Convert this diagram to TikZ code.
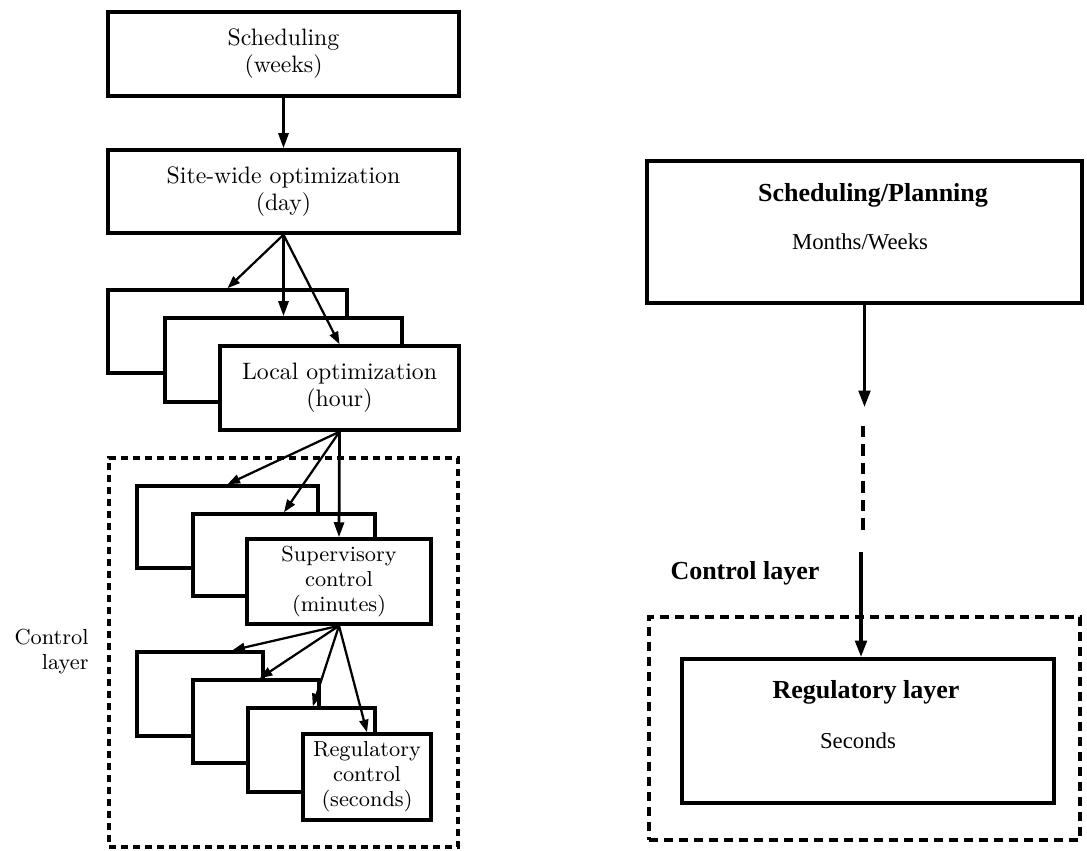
\documentclass[tikz,border=0pt]{standalone}
\usepackage{fontspec}
\newfontfamily\rfont{Liberation Serif}
\usetikzlibrary{arrows.meta,fit,calc}
\newcommand\lfa{\fontsize{9.5}{10.8}\selectfont}
\newcommand\lfb{\fontsize{8.7}{10}\selectfont}
\newcommand\rfb{\rfont\bfseries\fontsize{10.4}{12}\selectfont}
\newcommand\rfr{\rfont\fontsize{9.1}{11}\selectfont}
\begin{document}
\begin{tikzpicture}[x=0.4pt,y=-0.4pt,
  box/.style={draw, line width=1.4pt, fill=white, inner sep=0pt},
  txt/.style={align=center, inner sep=0pt},
  rbox/.style={draw, line width=1.6pt, inner sep=0pt},
  ldash/.style={draw, line width=1.4pt, dash pattern=on 2.8pt off 2pt, inner sep=0pt},
  rdashbox/.style={draw, line width=1.3pt, dash pattern=on 3.6pt off 2.4pt, inner sep=0pt},
  rdashline/.style={line width=1.3pt, dash pattern=on 4.6pt off 2.8pt},
  arr/.style={-{Triangle[length=6pt,width=4pt]}, line width=1.1pt},
  darr/.style={-{Triangle[length=5pt,width=3.6pt]}, line width=0.9pt},
  rarr/.style={-{Triangle[length=6.5pt,width=4.6pt]}, line width=1.3pt}]
\useasboundingbox (0,0) rectangle (1087,851);

% ---------------- left diagram ----------------
\node[ldash, fit={(109,458)(458,847)}] (lcl) {};
\node[anchor=east, align=right, font=\lfb, inner sep=0pt] (lctl) at (89,652) {Control\\layer};

\node[box, fit={(108,12)(459,96)}] (s1) {};
\node[txt, font=\lfa] (s1t) at (s1.center) {Scheduling\\(weeks)};
\node[box, fit={(108,150)(459,233)}] (s2) {};
\node[txt, font=\lfa] (s2t) at (s2.center) {Site-wide optimization\\(day)};

\node[box, fit={(108,290)(347,373)}] (l1a) {};
\node[box, fit={(165,318)(402,402)}] (l1b) {};
\node[box, fit={(220,346)(459,430)}] (l1c) {};
\node[txt, font=\lfa] (l1ct) at (l1c.center) {Local optimization\\(hour)};

\node[box, fit={(137,486)(318,568)}] (l2a) {};
\node[box, fit={(193,514)(375,596)}] (l2b) {};
\node[box, fit={(247,539)(431,624)}] (l2c) {};
\node[txt, font=\lfb] (l2ct) at (l2c.center) {Supervisory\\control\\(minutes)};

\node[box, fit={(137,652)(263,736)}] (l3a) {};
\node[box, fit={(193,680)(319,763)}] (l3b) {};
\node[box, fit={(248,708)(375,792)}] (l3c) {};
\node[box, fit={(303,734)(431,820)}] (l3d) {};
\node[txt, font=\lfb] (l3dt) at (l3d.center) {Regulatory\\control\\(seconds)};

\draw[arr] (s1.south) -- (s2.north);
\draw[darr] (s2.south) -- (l1a.north);
\draw[arr] (s2.south) -- (l1b.north);
\draw[darr] (s2.south) -- (l1c.north);

\draw[darr] (l1c.south) -- (l2a.north);
\draw[darr] (l1c.south) -- (l2b.north);
\draw[arr] (l1c.south) -- (l2c.north);

\draw[darr] (l2c.south) -- ($(l3a.north west)!0.75!(l3a.north east)$);
\draw[darr] (l2c.south) -- ($(l3b.north west)!0.53!(l3b.north east)$);
\draw[darr] (l2c.south) -- ($(l3c.north west)!0.51!(l3c.north east)$);
\draw[darr] (l2c.south) -- (l3d.north);

% ---------------- right diagram ----------------
\node[rbox, fit={(647,161)(1082,303)}] (sp) {};
\node[font=\rfb] (spt) at (873,195) {Scheduling/Planning};
\node[font=\rfr] (spm) at (860,242) {Months/Weeks};

\node[rdashbox, fit={(649,617)(1080,840)}] (rcl) {};
\node[font=\rfb] (rctl) at (745,573) {Control layer};

\node[rbox, fill=white, fit={(682,659)(1054,803)}] (rg) {};
\node[font=\rfb] (rgt) at (866,692) {Regulatory layer};
\node[font=\rfr] (rgs) at (858,741) {Seconds};

\coordinate (a1) at (864.5,407);
\coordinate (d1) at (863,426);
\coordinate (d2) at (863,531);
\coordinate (b1) at (861,552);
\draw[rarr] (sp.south) -- (a1);
\draw[rdashline] (d1) -- (d2);
\draw[rarr] (b1) -- (b1 |- rg.north);
\end{tikzpicture}
\end{document}
